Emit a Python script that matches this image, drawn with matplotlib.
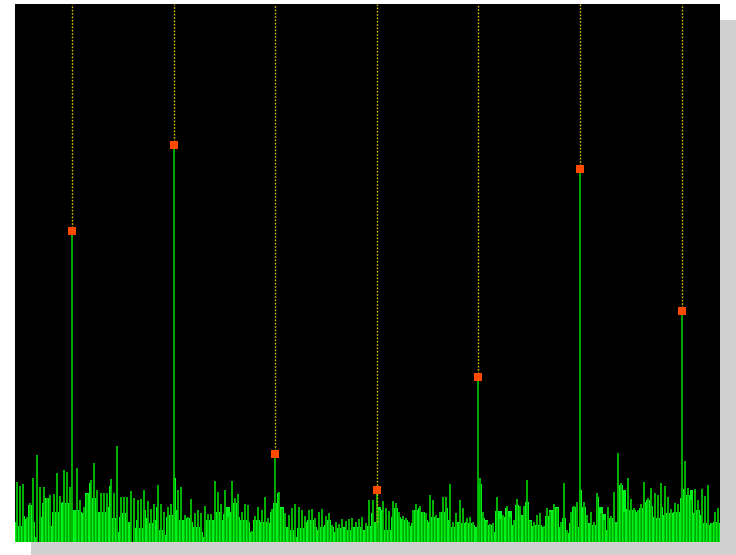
import numpy as np
import matplotlib
matplotlib.use("Agg")
import matplotlib.pyplot as plt
from matplotlib.patches import Rectangle

# Noise floor spectrum (arbitrary amplitude units), one value per frequency bin
noise_fill = [
    20, 16, 26, 23, 37, 20, 5, 25, 39, 44,
    16, 30, 30, 39, 40, 39, 39, 32, 32, 30,
    29, 49, 59, 44, 30, 30, 30, 35, 56, 24,
    10, 25, 29, 20, 20, 14, 22, 14, 32, 24,
    19, 22, 35, 12, 7, 25, 27, 64, 32, 22,
    22, 24, 20, 15, 15, 10, 5, 22, 22, 22,
    30, 22, 28, 35, 30, 39, 25, 22, 22, 20,
    10, 22, 22, 20, 20, 19, 30, 39, 49, 35,
    15, 15, 12, 5, 14, 14, 20, 22, 22, 15,
    12, 15, 17, 22, 15, 10, 14, 15, 15, 12,
    15, 15, 15, 12, 12, 16, 29, 20, 35, 32,
    12, 12, 25, 34, 25, 23, 22, 16, 19, 32,
    34, 30, 22, 20, 25, 24, 24, 30, 34, 22,
    15, 20, 20, 19, 20, 19, 17, 15, 58, 24,
    22, 17, 10, 31, 31, 25, 34, 31, 17, 37,
    27, 27, 40, 22, 16, 17, 17, 15, 26, 32,
    32, 35, 15, 24, 9, 19, 35, 15, 52, 35,
    19, 19, 17, 45, 35, 28, 12, 24, 20, 20,
    57, 52, 33, 32, 32, 30, 34, 40, 42, 36,
    25, 24, 35, 27, 29, 29, 30, 30, 44, 53,
    47, 52, 29, 32, 27, 19, 17, 19, 20, 19,
]

noise_spikes = [
    60, 56, 58, 25, 39, 64, 87, 55, 55, 44,
    47, 48, 69, 46, 72, 70, 55, 0, 74, 42,
    35, 48, 62, 79, 52, 49, 49, 49, 63, 49,
    96, 45, 45, 45, 51, 44, 42, 43, 52, 41,
    33, 38, 57, 38, 30, 35, 38, 0, 52, 55,
    27, 25, 43, 29, 32, 29, 36, 28, 28, 61,
    50, 38, 52, 25, 61, 44, 48, 30, 38, 37,
    11, 26, 35, 32, 45, 24, 33, 0, 50, 33,
    29, 27, 34, 38, 35, 32, 26, 32, 33, 24,
    30, 33, 26, 29, 17, 20, 18, 23, 21, 23,
    24, 20, 23, 25, 19, 42, 42, 0, 32, 41,
    34, 31, 41, 39, 30, 26, 24, 20, 32, 38,
    36, 30, 29, 47, 42, 27, 30, 45, 45, 58,
    20, 29, 42, 34, 24, 25, 20, 0, 64, 30,
    20, 18, 19, 45, 23, 27, 36, 25, 22, 43,
    36, 36, 62, 21, 20, 27, 29, 16, 34, 30,
    38, 34, 20, 59, 12, 30, 36, 40, 0, 40,
    27, 30, 20, 49, 29, 22, 35, 26, 50, 89,
    59, 30, 64, 43, 34, 32, 38, 60, 44, 54,
    49, 47, 59, 56, 45, 33, 39, 38, 0, 81,
    54, 42, 53, 42, 53, 46, 57, 19, 30, 34,
]

# Detected peaks (bin position, amplitude)
peak_freq = [17.0, 47.4, 77.5, 107.8, 137.9, 168.3, 198.7]
peak_amp = [311, 397, 88, 52, 165, 373, 231]
# lower end of the dotted guide line for each peak
guide_low = [311, 397, 88, 20, 165, 373, 231]

N = len(noise_fill)
Y_MAX = 538

W, H = 736, 555
fig = plt.figure(figsize=(W / 100, H / 100), dpi=100)
fig.patch.set_facecolor("white")

ax_l, ax_t, ax_w, ax_h = 15, 4, 705, 538
off = 16
shadow = Rectangle(((ax_l + off) / W, (H - (ax_t + ax_h + off)) / H),
                   ax_w / W, ax_h / H, transform=fig.transFigure,
                   facecolor="#d0d0d0", edgecolor="none", zorder=0)
fig.patches.append(shadow)

ax = fig.add_axes([ax_l / W, (H - ax_t - ax_h) / H, ax_w / W, ax_h / H])
ax.set_facecolor("black")
ax.set_zorder(1)

x = np.arange(N)
fill = np.array(noise_fill, dtype=float)
spk = np.array(noise_spikes, dtype=float)
mask = spk > 0

ax.bar(x, fill, width=1.0, align="edge", color="#00f41c",
       linewidth=0, zorder=2)
# spikes (visible part above the filled floor)
ax.vlines(x[mask] + 0.5, 0, spk[mask], colors="#00c400", linewidth=1.3,
          zorder=3)
# darker separators inside the filled floor
sep = np.minimum(fill, spk)
ax.vlines(x[mask] + 0.5, 0, sep[mask], colors="#00a000", linewidth=0.6,
          zorder=3.5)

ax.vlines(peak_freq, 0, peak_amp, colors="#00b800", linewidth=1.3, zorder=4)
ax.vlines(peak_freq, guide_low, Y_MAX, colors="#d8c400", linewidth=1.0,
          linestyles=(0, (1.2, 1.2)), zorder=5)
ax.plot(peak_freq, peak_amp, "s", color="#ff4a00", markersize=5.8,
        markeredgewidth=0, zorder=6)

ax.set_xlim(0, N)
ax.set_ylim(0, Y_MAX)
ax.set_xticks([])
ax.set_yticks([])
for s in ax.spines.values():
    s.set_visible(False)

fig.savefig("out.png", dpi=100, facecolor="white")
